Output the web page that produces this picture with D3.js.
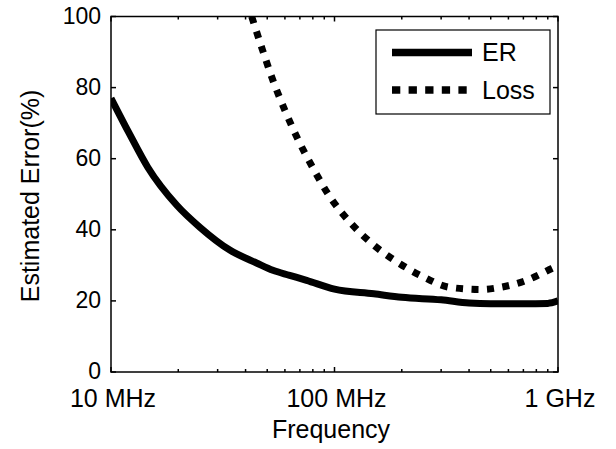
<!DOCTYPE html>
<html><head><meta charset="utf-8">
<script src="https://cdn.jsdelivr.net/npm/d3@7"></script>
<style>body{margin:0;background:#fff}svg{display:block}text{font-family:"Liberation Sans",Arial,sans-serif;fill:#000}</style>
</head><body><svg id="c" width="616" height="449"></svg>
<script>
const erFreq = [10, 12, 14.6, 19.7, 25, 34, 45, 53, 63, 75, 100, 150, 200, 300, 400, 500, 700, 900, 1000];
const erVals = [77, 67.4, 57.6, 46.9, 40.7, 34.3, 30.6, 28.6, 27.2, 25.8, 23.3, 22.0, 21.0, 20.3, 19.4, 19.2, 19.2, 19.3, 20.0];
const lossFreq = [42.6, 47.8, 53.2, 60, 68.9, 80.4, 95.5, 117, 146.6, 190, 249, 329, 455, 550, 724, 938, 1000];
const lossVals = [100, 90.3, 81.8, 73.6, 65.2, 57.2, 49.2, 42.2, 36.2, 31.0, 26.8, 23.8, 23.2, 23.8, 25.8, 29.1, 29.9];
const xTickVals = [10, 100, 1000];
const xTickLabels = ["10 MHz", "100 MHz", "1 GHz"];
const xMinorVals = [20,30,40,50,60,70,80,90,200,300,400,500,600,700,800,900];
const yTickVals = [0, 20, 40, 60, 80, 100];
const seriesNames = ["ER", "Loss"];

const L = 111, R = 558, T = 16.5, B = 372;
const svg = d3.select("#c");
const x = d3.scaleLog().domain([10, 1000]).range([L, R]);
const y = d3.scaleLinear().domain([0, 100]).range([B, T]);

svg.append("clipPath").attr("id","clip").append("rect").attr("x",L).attr("y",T).attr("width",R-L).attr("height",B-T);

// ticks
const tg = svg.append("g").attr("stroke","#000").attr("stroke-width",1.5);
xMinorVals.forEach(v=>{
  tg.append("line").attr("x1",x(v)).attr("x2",x(v)).attr("y1",B).attr("y2",B-3);
  tg.append("line").attr("x1",x(v)).attr("x2",x(v)).attr("y1",T).attr("y2",T+3);
});
xTickVals.forEach(v=>{
  tg.append("line").attr("x1",x(v)).attr("x2",x(v)).attr("y1",B).attr("y2",B-5);
  tg.append("line").attr("x1",x(v)).attr("x2",x(v)).attr("y1",T).attr("y2",T+5);
});
yTickVals.forEach(v=>{
  tg.append("line").attr("x1",L).attr("x2",L+5).attr("y1",y(v)).attr("y2",y(v));
  tg.append("line").attr("x1",R).attr("x2",R-5).attr("y1",y(v)).attr("y2",y(v));
});

// labels
svg.append("g").selectAll("text").data(yTickVals).join("text")
  .attr("x",L-10).attr("y",d=>y(d)).attr("dy","0.32em").attr("text-anchor","end")
  .attr("font-size",23).text(d=>d);
svg.append("g").selectAll("text").data(xTickVals).join("text")
  .attr("x",d=>x(d)+2).attr("y",407).attr("text-anchor","middle")
  .attr("font-size",25).text((d,i)=>xTickLabels[i]);
svg.append("text").attr("x",331).attr("y",438).attr("text-anchor","middle").attr("font-size",25).text("Frequency");
svg.append("text").attr("transform","translate(39,196) rotate(-90)").attr("text-anchor","middle").attr("font-size",25).text("Estimated Error(%)");

// lines
const line = d3.line().x(d=>x(d[0])).y(d=>y(d[1])).curve(d3.curveMonotoneX);
const pg = svg.append("g").attr("clip-path","url(#clip)");
pg.append("path").datum(erFreq.map((f,i)=>[f,erVals[i]])).attr("d",line)
  .attr("fill","none").attr("stroke","#000").attr("stroke-width",7).attr("stroke-linejoin","round");
pg.append("path").datum(lossFreq.map((f,i)=>[f,lossVals[i]])).attr("d",line)
  .attr("fill","none").attr("stroke","#000").attr("stroke-width",7).attr("stroke-dasharray","7,8.5");

// axes box
svg.append("rect").attr("x",L).attr("y",T).attr("width",R-L).attr("height",B-T)
  .attr("fill","none").attr("stroke","#000").attr("stroke-width",1.5);

// legend
const lg = svg.append("g");
lg.append("rect").attr("x",376).attr("y",30).attr("width",174).attr("height",84).attr("fill","#fff").attr("stroke","#000").attr("stroke-width",1.2);
lg.append("line").attr("x1",392).attr("x2",472).attr("y1",52.5).attr("y2",52.5).attr("stroke","#000").attr("stroke-width",7.5);
lg.append("line").attr("x1",392).attr("x2",472).attr("y1",90).attr("y2",90).attr("stroke","#000").attr("stroke-width",7.5).attr("stroke-dasharray","8.3,8.3");
lg.append("text").attr("x",482).attr("y",61).attr("font-size",25).text(seriesNames[0]);
lg.append("text").attr("x",482).attr("y",99).attr("font-size",25).text(seriesNames[1]);
</script></body></html>
